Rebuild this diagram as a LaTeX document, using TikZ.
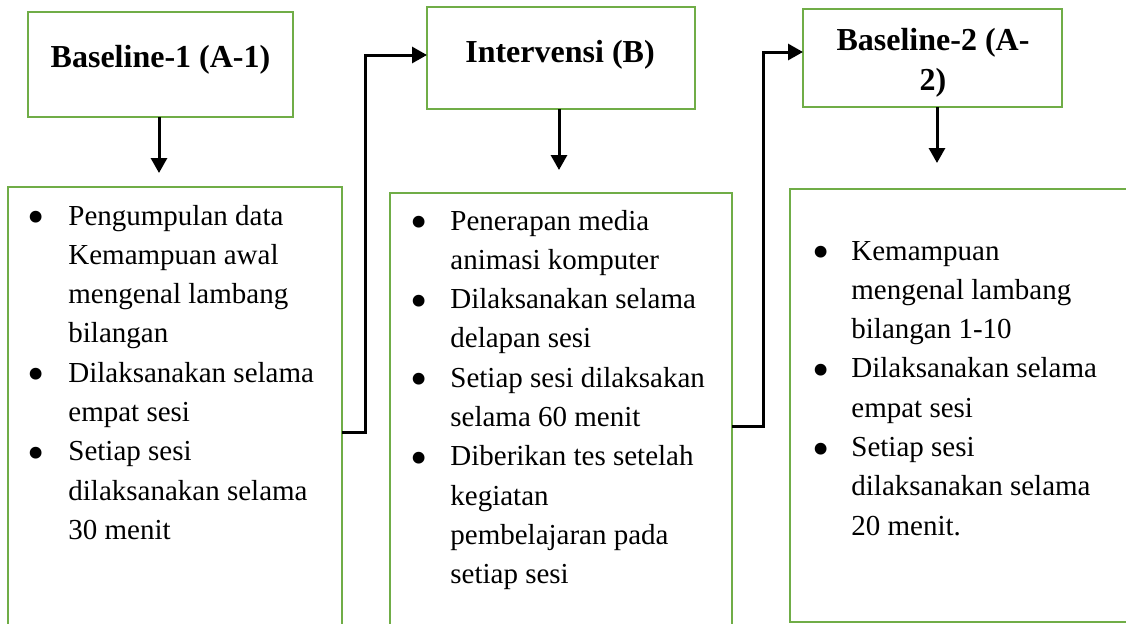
\documentclass[tikz,border=0pt]{standalone}
\usepackage{fontspec}
\setmainfont{Liberation Serif}
\usetikzlibrary{arrows.meta}
\definecolor{frame}{HTML}{70AD47}
\tikzset{
  frm/.style={draw=frame, line width=1.2pt, inner sep=0pt, outer sep=0pt, anchor=north west},
  ttl/.style={font=\fontsize{16}{20}\selectfont\bfseries, inner sep=0pt, anchor=base},
  lst/.style={inner sep=0pt, anchor=base west, font=\fontsize{14.5}{19.65}\selectfont},
  arr/.style={line width=1.5pt, -{Triangle[length=7.5pt,width=8pt]}},
}
\newcommand{\bul}{\hspace*{-1.5pt}\raisebox{-4.3pt}{\scalebox{1.7}{\textbullet}}}
\begin{document}
\begin{tikzpicture}[x=0.5pt,y=-0.5pt]
\useasboundingbox (0,0) rectangle (1126,623);
\clip (0,0) rectangle (1126,623);
% title boxes
\node[frm, minimum width=132.5pt, minimum height=52.5pt] (b1) at (28,12) {};
\node[frm, minimum width=134pt, minimum height=51pt] (b2) at (427,7) {};
\node[frm, minimum width=129.5pt, minimum height=49pt] (b3) at (803,9) {};
\node[ttl] (t1) at (160.5,67) {Baseline-1 (A-1)};
\node[ttl] (t2) at (560,62) {Intervensi (B)};
\node[ttl] (t3) at (933,50) {\begin{tabular}[t]{@{}c@{}}Baseline-2 (A-\\2)\end{tabular}};
% content boxes
\node[frm, minimum width=167pt, minimum height=235pt] (c1) at (8,187) {};
\node[frm, minimum width=171pt, minimum height=235pt] (c2) at (390,193) {};
\node[frm, minimum width=172.5pt, minimum height=216.5pt] (c3) at (790,189) {};
\node[lst] (l1) at (30,225) {\begin{tabular}[t]{@{}p{19pt}@{}l@{}}
\bul & Pengumpulan data\\
 & Kemampuan awal\\
 & mengenal lambang\\
 & bilangan\\
\bul & Dilaksanakan selama\\
 & empat sesi\\
\bul & Setiap sesi\\
 & dilaksanakan selama\\
 & 30 menit
\end{tabular}};
\node[lst] (l2) at (413,230) {\begin{tabular}[t]{@{}p{18.5pt}@{}l@{}}
\bul & Penerapan media\\
 & animasi komputer\\
\bul & Dilaksanakan selama\\
 & delapan sesi\\
\bul & Setiap sesi dilaksakan\\
 & selama 60 menit\\
\bul & Diberikan tes setelah\\
 & kegiatan\\
 & pembelajaran pada\\
 & setiap sesi
\end{tabular}};
\node[lst] (l3) at (815,260) {\begin{tabular}[t]{@{}p{18pt}@{}l@{}}
\bul & Kemampuan\\
 & mengenal lambang\\
 & bilangan 1-10\\
\bul & Dilaksanakan selama\\
 & empat sesi\\
\bul & Setiap sesi\\
 & dilaksanakan selama\\
 & 20 menit.
\end{tabular}};
% vertical arrows
\draw[arr, shorten >=7pt] ([xshift=-0.75pt]b1.south) -- ([xshift=-0.75pt]b1.south |- c1.north);
\draw[arr, shorten >=11.5pt] ([xshift=-1pt]b2.south) -- ([xshift=-1pt]b2.south |- c2.north);
\draw[arr, shorten >=13pt] ([xshift=2.25pt]b3.south) -- ([xshift=2.25pt]b3.south |- c3.north);
% connectors
\coordinate (j1) at (365,432);
\coordinate (j2) at (763,426);
\draw[arr] (c1.east |- j1) -- (j1) |- (b2.west |- 0,55);
\draw[arr] (c2.east |- j2) -- (j2) |- (b3.west |- 0,52);
\end{tikzpicture}
\end{document}
